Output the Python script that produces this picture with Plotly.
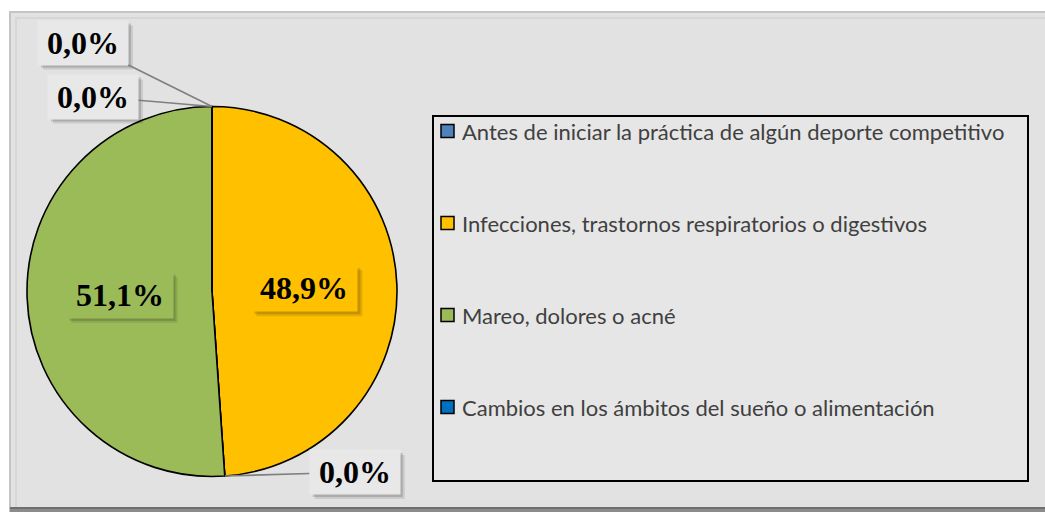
import math
import plotly.graph_objects as go

W, H = 1045, 512

# Datos del gráfico (orden de las porciones, sentido horario desde las 12)
categorias = [
    "Antes de iniciar la práctica de algún deporte competitivo",
    "Infecciones, trastornos respiratorios o digestivos",
    "",
    "Mareo, dolores o acné",
    "Cambios en los ámbitos del sueño o alimentación",
]
porcentajes = [0.0, 48.9, 0.0, 51.1, 0.0]
colores = ["#4F81BD", "#FFC000", "#A5A5A5", "#9BBB59", "#0070C0"]

# Geometría del círculo (píxeles)
CX, CY, R = 212, 291.5, 185
# Desplazamiento de las etiquetas de porciones nulas (píxeles, relativo al borde)
desplazamientos = {0: (-129, -64), 2: (130, -4), 4: (-119, -10)}

FONDO = "#e2e2e2"


def px_to_paper(x, y):
    return x / W, 1 - y / H


def etiqueta(v):
    return f"{v:.1f}".replace(".", ",") + "%"


def sombra(xc, yc, w, h):
    """Rectángulos semitransparentes desplazados que simulan la sombra de una etiqueta."""
    out = []
    for d, op in ((5, 0.10), (3, 0.15)):
        out.append(dict(type="rect", xref="paper", yref="paper",
                        x0=(xc - w / 2 + d) / W, x1=(xc + w / 2 + d) / W,
                        y0=1 - (yc + h / 2 + d) / H, y1=1 - (yc - h / 2 + d) / H,
                        fillcolor=f"rgba(0,0,0,{op})", line=dict(width=0)))
    return out


fig = go.Figure()
fig.add_trace(go.Pie(
    values=porcentajes,
    labels=[c if c else " " for c in categorias],
    marker=dict(colors=colores, line=dict(color="black", width=1.6)),
    sort=False,
    direction="clockwise",
    rotation=0,
    textinfo="none",
    hoverinfo="label+percent",
    showlegend=False,
    domain=dict(x=[(CX - R) / W, (CX + R) / W],
                y=[(H - CY - R) / H, (H - CY + R) / H]),
))

shapes = []
# marco del área del gráfico
shapes.append(dict(type="rect", xref="paper", yref="paper", layer="below",
                   x0=10 / W, x1=1.02, y0=-0.02, y1=1 - 12 / H,
                   fillcolor=FONDO, line=dict(color="#c4c4c4", width=2)))
shapes.append(dict(type="rect", xref="paper", yref="paper", layer="below",
                   x0=16 / W, x1=1.02, y0=-0.02, y1=1 - 18 / H,
                   fillcolor="rgba(0,0,0,0)", line=dict(color="#d6d6d6", width=2)))
shapes.append(dict(type="rect", xref="paper", yref="paper", layer="below",
                   x0=10 / W, x1=1.02, y0=0, y1=5 / H,
                   fillcolor="#8c8c8c", line=dict(width=0)))
shapes.append(dict(type="rect", xref="paper", yref="paper", layer="below",
                   x0=10 / W, x1=1.02, y0=3 / H, y1=5 / H,
                   fillcolor="#6f6f6f", line=dict(width=0)))

annotations = []
total = sum(porcentajes)
acum = 0.0
for i, v in enumerate(porcentajes):
    frac = (acum + v / 2) / total
    acum += v
    th = 2 * math.pi * frac
    texto = etiqueta(v)
    fuente = dict(family="Liberation Serif", size=32, color="black", weight="bold")
    if v > 0:
        px_x = CX + 0.5 * R * math.sin(th)
        px_y = CY - 0.5 * R * math.cos(th)
        x, y = px_to_paper(px_x, px_y)
        shapes.extend(sombra(px_x, px_y, 106, 46))
        annotations.append(dict(x=x, y=y, xref="paper", yref="paper", text=texto,
                                showarrow=False, xanchor="center", yanchor="middle",
                                width=104, height=44, font=fuente, bgcolor=colores[i]))
    else:
        px_x = CX + R * math.sin(th)
        px_y = CY - R * math.cos(th)
        x, y = px_to_paper(px_x, px_y)
        ax, ay = desplazamientos[i]
        shapes.extend(sombra(px_x + ax, px_y + ay, 90, 44))
        annotations.append(dict(x=x, y=y, xref="paper", yref="paper", text=texto,
                                showarrow=True, ax=ax, ay=ay, arrowhead=0,
                                arrowwidth=1.6, arrowcolor="#7f7f7f",
                                width=88, height=42, font=fuente, bgcolor="#e8e8e8"))

# Leyenda
LX0, LX1, LY0, LY1 = 433, 1028, 116, 481
shapes.append(dict(type="rect", xref="paper", yref="paper",
                   x0=LX0 / W, x1=LX1 / W, y0=1 - LY1 / H, y1=1 - LY0 / H,
                   fillcolor="#e6e6e6", line=dict(color="black", width=2)))
fila_y, paso = 131, 92
n = 0
for i, nombre in enumerate(categorias):
    if not nombre:
        continue
    yc = fila_y + n * paso
    n += 1
    shapes.append(dict(type="rect", xref="paper", yref="paper",
                       x0=441 / W, x1=454 / W, y0=1 - (yc + 6.5) / H, y1=1 - (yc - 6.5) / H,
                       fillcolor=colores[i], line=dict(color="black", width=1.5)))
    annotations.append(dict(x=460 / W, y=1 - yc / H, xref="paper", yref="paper",
                            text=nombre, showarrow=False, xanchor="left", yanchor="middle",
                            font=dict(family="Lato", size=22, color="#404040")))

fig.update_layout(
    width=W, height=H,
    margin=dict(l=0, r=0, t=0, b=0),
    paper_bgcolor="white",
    plot_bgcolor="white",
    shapes=shapes,
    annotations=annotations,
)

fig.write_html("out.html")
